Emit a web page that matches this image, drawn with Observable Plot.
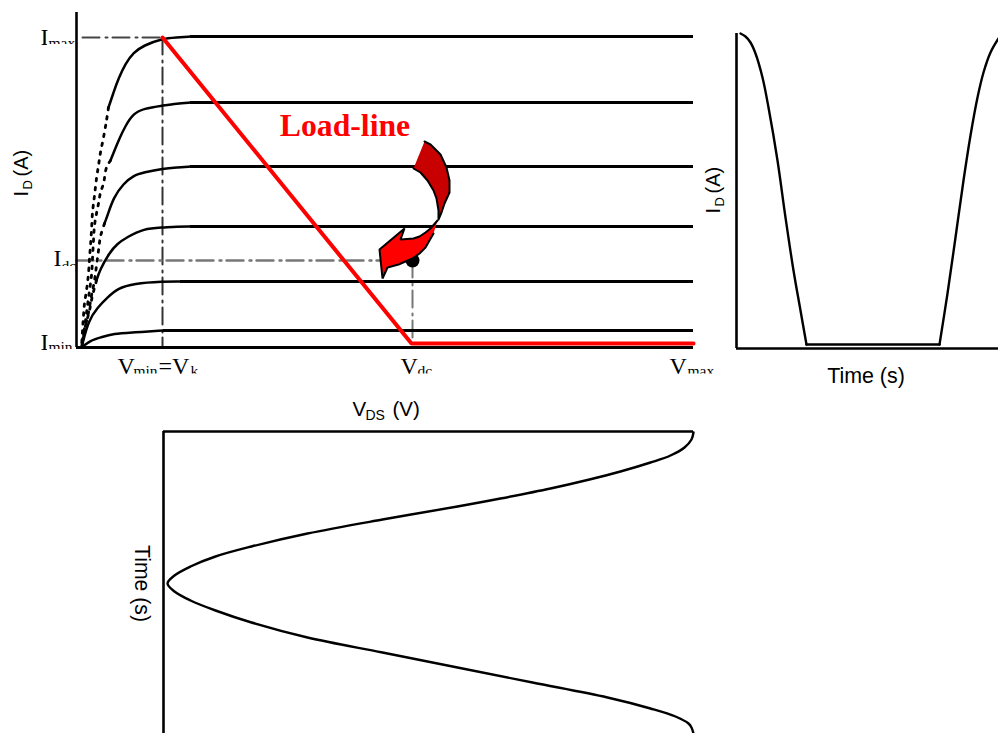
<!DOCTYPE html>
<html><head><meta charset="utf-8">
<script src="https://cdn.jsdelivr.net/npm/d3@7"></script>
<script src="https://cdn.jsdelivr.net/npm/@observablehq/plot@0.6"></script>
<style>
html,body{margin:0;padding:0;background:#fff;overflow:hidden}
#page{position:relative;width:998px;height:733px;overflow:hidden}
#page svg{position:absolute;background:transparent;overflow:hidden}
</style></head><body><div id="page"></div>
<script>
// ---- Output characteristics: [VDS, ID] in chart units
const flatLevels=[31.1,24.5,18.1,12.1,6.6,1.7];
const flatStart=[11.4,11.4,11.4,11.4,10.4,8.7];
const curve1Solid=[[11.4,31.1],[10,31],[8.6,30.9],[6.7,30.2],[5.7,29.5],[4.9,28.4],[4.2,26.9],[3.7,25.5],[3.2,24.0]];
const curve1Dotted=[[3.2,24],[3,22.7],[2.7,21],[2.4,19.5],[2.2,18.2],[2,16.9],[1.8,15.2],[1.6,13.5],[1.5,11.7],[1.4,10.2],[1.3,8.9],[1.2,7.4],[1,5.7],[0.8,4.4],[0.7,3.2],[0.6,1.7],[0.5,0]];
const curve2Solid=[[11.4,24.5],[10,24.4],[8.7,24.2],[6.7,23.9],[5.7,23.4],[4.9,22.2],[4.2,20.7],[3.8,19.7],[3.4,18.7]];
const curve2Dotted=[[3.4,18.7],[3,18],[2.7,16.4],[2.4,15.5],[2.2,14.4],[2,13.4],[1.8,12.2],[1.7,10.7],[1.6,8.9],[1.5,7.2],[1.3,5.7],[1.1,4.2],[0.9,2.7],[0.7,1.2],[0.5,0]];
const curve3Solid=[[11.4,18.1],[10,18],[8.7,17.9],[6.7,17.5],[5.7,17.2],[4.7,16.4],[3.7,15],[3.1,13.2],[2.8,12.4]];
const curve3Dotted=[[2.8,12.4],[2.4,11.1],[2.2,9.7],[2,8.2],[1.8,6.7],[1.5,5.2],[1.2,3.5],[0.8,1.7],[0.5,0]];
const curve4Solid=[[11.4,12.1],[10,12.1],[8.7,12],[6.7,11.9],[5,11],[4.1,10.4],[3.3,9.5],[2.3,7.7],[2,6.7]];
const curve4Dotted=[[2,6.7],[1.6,5.2],[1.3,3.7],[0.9,2.2],[0.5,0]];
const curve5=[[10.4,6.6],[8.7,6.6],[5.7,6.4],[4.1,5.9],[3.1,5],[2.1,4],[1.2,2.7],[0.6,0.4],[0.5,0]];
const curve6=[[8.7,1.7],[5.7,1.5],[3.7,1.4],[2.4,1],[1.4,0.7],[0.5,0]];
const loadLine=[[8.6,31.0],[33.5,0.4],[61.7,0.4]];
const quiescent=[[33.6,8.7]];
const guideImax=[[0.6,31],[8.6,31]];
const guideVk=[[8.6,31],[8.6,0]];
const guideIdc=[[0,8.7],[30.6,8.7]];
const guideVdc=[[33.6,8.7],[33.6,0.4]];
const arrowBack=[[34.8,20.6],[35.4,20.3],[36.4,19.3],[37,18],[37.3,16.7],[37.3,15.5],[36.8,14.4],[36.5,13.5],[36.2,12.8],[36.2,13.7],[36,14.9],[35.7,15.7],[35.1,16.7],[34.4,17.5],[33.7,17.9]];
const arrowFront=[[36.1,12.7],[35.4,11.9],[34.9,11.5],[34.3,11.1],[33.7,10.9],[32.4,10.8],[32.8,11.9],[30.3,9.8],[30.6,6.9],[31.1,8],[32.2,8.3],[33.6,8.9],[34.3,9.4],[34.9,10],[35.7,11.4]];
// ---- Drain current waveform: [time, ID]
const idFall=[[0.4,31.5],[0.9,31.2],[1.4,30.6],[1.9,29.5],[2.6,27.1],[3.2,24.1],[4.1,18.8],[4.9,13.1],[5.7,7.8],[6.4,3.8],[7,0.4]];
const idFlat=[[7,0.4],[20.3,0.4]];
const idRise=[[20.3,0.4],[21.1,5.5],[21.9,11.1],[22.7,16.8],[23.4,21.3],[24.1,25.1],[24.7,27.6],[25.4,29.6],[26.2,31]];
// ---- Drain voltage waveform: [VDS, time]
const vdsWave=[[61.7,0.1],[61.5,0.8],[60.8,1.6],[59.4,2.4],[57.4,3.1],[54.4,4],[51.3,4.8],[47.4,5.7],[42.4,6.7],[38.1,7.5],[30.6,8.8],[23.1,10.2],[17.5,11.5],[13.9,12.5],[11.4,13.5],[9.8,14.4],[9.1,15.2],[9.8,16],[11.4,16.9],[13.9,17.9],[17.5,19.1],[23.1,20.6],[30.6,22.1],[38.1,23.6],[45.6,25.1],[53.1,26.6],[57.4,27.7],[59.9,28.5],[61.2,29.2],[61.5,29.6],[61.7,30.2]];
// ---- Labels: [text, V position, I position]
const mainStems=[["I",-3.6,30.3],["I",-3.6,-0.2],["I",-2.3,8.2],["V",4.1,-2.6],["=V",8.2,-2.6],["V",32.4,-2.6],["V",59.3,-2.6]];
const mainSubs=[["max",-2.8,30.0],["min",-2.8,-0.4],["dc",-1.5,7.7],["min",5.7,-2.8],["k",11.4,-2.8],["dc",34.1,-2.8],["max",61.1,-2.8]];
const subClips=[[-2.9,-0.1,30.3,29.3],[-2.9,-0.1,-0.2,-1.2],[-1.6,-0.1,8.1,7.1],[5.6,8.2,-2.65,-3.6],[11.3,12.4,-2.65,-3.6],[34,35.6,-2.65,-3.6],[61,64,-2.65,-3.6]];
const loadLabel=[["Load-line",26.85,21.2]];
const xTitle=[["V",27.6,-6.8],["(V)",31.6,-6.8]], xTitleSub=[["DS",28.9,-7.2]];
const yTitle=[["I",-4.9,15.1],["(A)",-4.9,17.1]], yTitleSub=[["D",-4.5,15.8]];

const ln=(arr,o={})=>Plot.line(arr,{x:d=>d[0],y:d=>d[1],stroke:"#000",strokeWidth:2.5,...o});
const txt=(arr,o)=>Plot.text(arr,{x:d=>d[1],y:d=>d[2],text:d=>d[0],fill:"#000",lineAnchor:"bottom",...o});
const serif="Liberation Serif, Times New Roman, serif", sans="Liberation Sans, Arial, sans-serif";
const dash="17 6 2 5";

function place(plot,left,top){plot.style.left=left+"px";plot.style.top=top+"px";document.getElementById("page").append(plot);}

const common={margin:0,style:{background:"transparent"}};

place(Plot.plot({...common,width:720,height:425,
  x:{domain:[-7.6,64.4],range:[0,720],axis:null},
  y:{domain:[34.7,-7.8],range:[0,425],axis:null},
  marks:[
    ln(guideImax,{stroke:"#444",strokeWidth:2,strokeDasharray:dash}),
    ln(guideVk,{stroke:"#333",strokeWidth:2,strokeDasharray:dash}),
    ln(guideIdc,{stroke:"#777",strokeWidth:2.4,strokeDasharray:dash}),
    ln(guideVdc,{stroke:"#777",strokeWidth:2,strokeDasharray:dash}),
    Plot.ruleX([0],{y1:0,y2:33.5,stroke:"#000",strokeWidth:2.6}),
    Plot.ruleY([0],{x1:0,x2:61.7,stroke:"#000",strokeWidth:3}),
    Plot.ruleY(flatLevels,{x1:(d,i)=>flatStart[i],x2:61.7,stroke:"#000",strokeWidth:3}),
    ...[curve1Solid,curve2Solid,curve3Solid,curve4Solid,curve5,curve6].map(c=>ln(c,{curve:"basis"})),
    ...[curve1Dotted,curve2Dotted,curve3Dotted,curve4Dotted].map(c=>ln(c,{curve:"catmull-rom",strokeWidth:2.8,strokeDasharray:"2.5 6.5"})),
    ln(loadLine,{stroke:"#f00",strokeWidth:4,strokeLinejoin:"miter"}),
    Plot.dot(quiescent,{x:d=>d[0],y:d=>d[1],r:7,fill:"#000"}),
    ln(arrowBack,{fill:"#c80000",strokeWidth:2,strokeLinejoin:"round"}),
    ln(arrowFront,{fill:"#f00",strokeWidth:2,strokeLinejoin:"miter"}),
    txt(mainStems,{fontFamily:serif,fontSize:24,textAnchor:"start"}),
    txt(mainSubs,{fontFamily:serif,fontSize:15.5,textAnchor:"start"}),
    Plot.rect(subClips,{x1:d=>d[0],x2:d=>d[1],y1:d=>d[2],y2:d=>d[3],fill:"#fff"}),
    txt(loadLabel,{fontFamily:serif,fontSize:31.7,fontWeight:"bold",fill:"#f00",textAnchor:"middle"}),
    txt(xTitle,{fontFamily:sans,fontSize:20.5,textAnchor:"start"}),
    txt(xTitleSub,{fontFamily:sans,fontSize:14,textAnchor:"start"}),
    txt(yTitle,{fontFamily:sans,fontSize:20,textAnchor:"start",rotate:-90}),
    txt(yTitleSub,{fontFamily:sans,fontSize:13,textAnchor:"start",rotate:-90})
  ]}),0,0);

const timeTitleH=[["Time (s)",12.95,-3.4]];
const yTitleR=[["I",-1.7,13.5],["(A)",-1.7,15.5]], yTitleSubR=[["D",-1.3,14.2]];
place(Plot.plot({...common,width:298,height:400,
  x:{domain:[-3.6,26.2],range:[0,298],axis:null},
  y:{domain:[34.8,-5.2],range:[0,400],axis:null},
  marks:[
    Plot.ruleX([0],{y1:0,y2:31.5,stroke:"#000",strokeWidth:2.6}),
    Plot.ruleY([0],{x1:0,x2:26.2,stroke:"#000",strokeWidth:2.6}),
    ln(idFall,{curve:"catmull-rom",strokeWidth:2.4}),
    ln(idFlat,{strokeWidth:2.4}),
    ln(idRise,{curve:"catmull-rom",strokeWidth:2.4}),
    txt(timeTitleH,{fontFamily:sans,fontSize:21.4,textAnchor:"middle"}),
    txt(yTitleR,{fontFamily:sans,fontSize:20,textAnchor:"start",rotate:-90}),
    txt(yTitleSubR,{fontFamily:sans,fontSize:13,textAnchor:"start",rotate:-90})
  ]}),700,0);

const timeTitleV=[["Time (s)",5.8,15.2]];
place(Plot.plot({...common,width:600,height:308,
  x:{domain:[4.4,64.4],range:[0,600],axis:null},
  y:{domain:[-0.6,30.2],range:[0,308],axis:null},
  marks:[
    Plot.ruleX([8.7],{y1:0,y2:30.2,stroke:"#000",strokeWidth:2.6}),
    Plot.ruleY([0],{x1:8.7,x2:61.7,stroke:"#000",strokeWidth:2.6}),
    ln(vdsWave,{curve:"catmull-rom",strokeWidth:2.4}),
    txt(timeTitleV,{fontFamily:sans,fontSize:21.2,textAnchor:"middle",rotate:90})
  ]}),120,425);
</script></body></html>
